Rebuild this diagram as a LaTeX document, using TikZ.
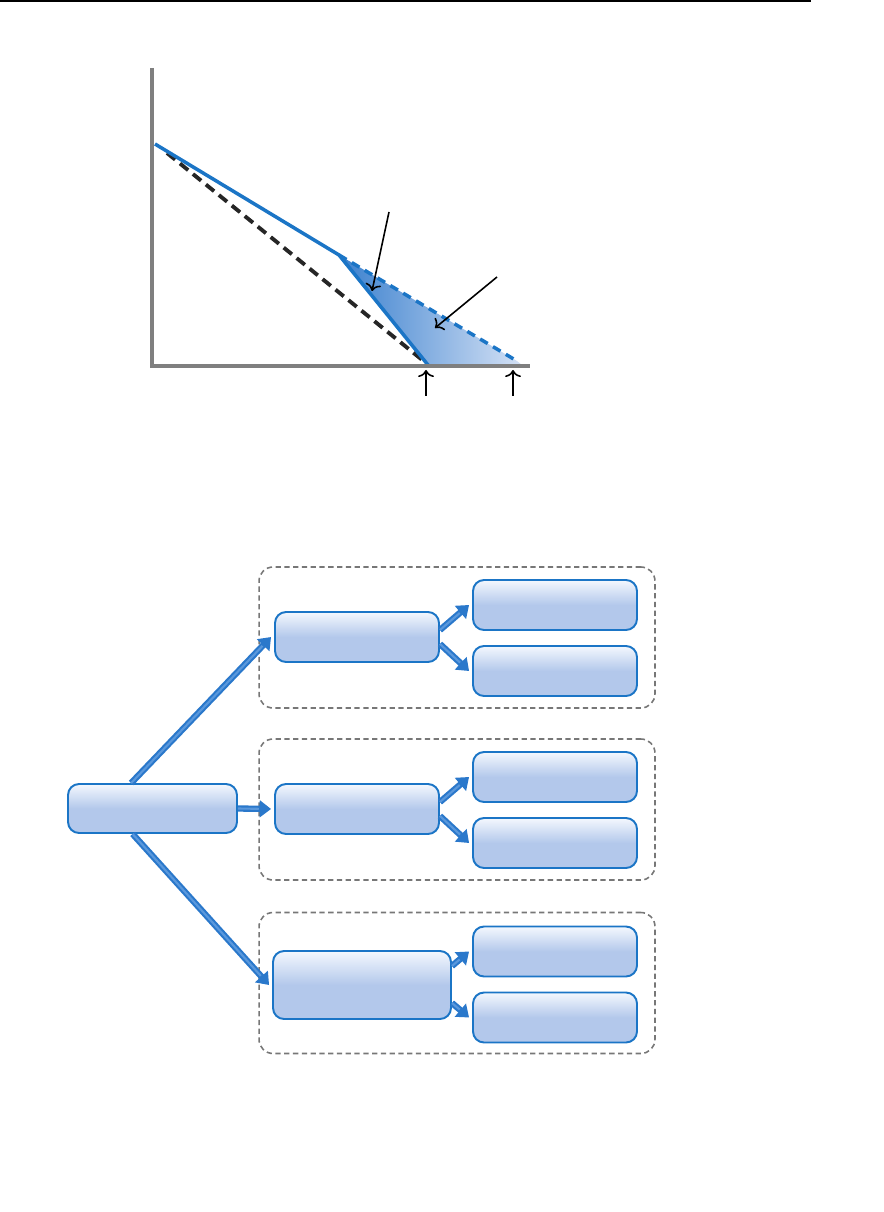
\documentclass[tikz,border=0pt]{standalone}
\usepackage{tikz}
\usetikzlibrary{arrows.meta}

\definecolor{lineblue}{HTML}{1B75C6}
\definecolor{boxtop}{HTML}{F4F8FE}
\definecolor{boxbot}{HTML}{B3C8EB}
\definecolor{axisgray}{HTML}{7F7F7F}
\definecolor{groupgray}{HTML}{777777}
\definecolor{flowblue}{HTML}{2A78CB}
\definecolor{flowlight}{HTML}{5A98DC}
\definecolor{shadedark}{HTML}{3A80CE}
\definecolor{shadelight}{HTML}{D4E1F5}

\tikzset{
    blockbox/.style={draw=lineblue, line width=1.1pt, rounded corners=0.22cm,
        top color=boxtop, bottom color=boxbot, middle color=boxbot,
        minimum width=3.28cm, minimum height=1cm, inner sep=0pt},
    groupbox/.style={draw=groupgray, line width=0.9pt, dash pattern=on 3pt off 2pt,
        rounded corners=0.28cm, minimum width=7.92cm, minimum height=2.82cm, inner sep=0pt},
    flow/.style={draw=flowblue, line width=3.6pt, -{Triangle[width=9.5pt,length=6.5pt]},
        postaction={draw=flowlight, line width=1.2pt, shorten >=7pt, -}},
    pointer/.style={line width=0.9pt, -{To[length=4pt,width=9pt]}}
}

\begin{document}
\begin{tikzpicture}[x=0.02cm, y=-0.02cm]
        \useasboundingbox (0,0) rectangle (883,1212);
        \draw[line width=0.9pt] (0,1) -- (811,1);

        % chart
        \coordinate (ytop) at (152,68);
        \coordinate (origin) at (152,366);
        \coordinate (xend) at (530,366);
        \coordinate (start) at (155,144);
        \coordinate (knee) at (339,255);
        \coordinate (cut) at (428,365);
        \coordinate (cutfar) at (517,361);

        \shade[left color=shadedark, right color=shadelight]
            (knee) -- (cut) -- (522,365) -- (cutfar) -- cycle;
        \draw[line width=2.2pt, dash pattern=on 6pt off 3.5pt, black!85] (167,153) -- (426,363);
        \draw[line width=2pt, lineblue, dash pattern=on 5pt off 3.5pt] (knee) -- (cutfar);
        \draw[line width=2pt, lineblue, line join=round] (start) -- (knee) -- (cut);
        \draw[line width=2.4pt, axisgray, line join=miter] (ytop) -- (origin) -- (xend);

        \draw[pointer] (389,212) -- (372,291);
        \draw[pointer] (497,277) -- (435,328);
        \foreach \x in {426,513} {
            \draw[pointer] (\x,396) -- (\x,370);
        }

        % groups
        \foreach \g/\y in {1/637.5,2/809.5,3/983} {
            \node[groupbox] (group\g) at (457,\y) {};
        }

        % boxes
        \node[blockbox, minimum width=3.38cm, minimum height=0.98cm] (source) at (152.5,808.5) {};
        \node[blockbox] (mid1) at (357,637) {};
        \node[blockbox] (mid2) at (357,809) {};
        \node[blockbox, minimum width=3.56cm, minimum height=1.36cm] (mid3) at (362,985) {};
        \foreach \n/\y in {1/605,2/671,3/777,4/843,5/951.5,6/1017.5} {
            \node[blockbox] (out\n) at (555,\y) {};
        }

        % connectors
        \draw[flow] (source.130) -- ([xshift=-0.06cm]mid1.west);
        \draw[flow] (source.east) -- ([xshift=-0.06cm]mid2.west);
        \draw[flow] (source.232) -- ([xshift=-0.06cm]mid3.west);
        \draw[flow] ([yshift=0.14cm]mid1.east) -- ([xshift=-0.06cm]out1.west);
        \draw[flow] ([yshift=-0.14cm]mid1.east) -- ([xshift=-0.06cm]out2.west);
        \draw[flow] ([yshift=0.14cm]mid2.east) -- ([xshift=-0.06cm]out3.west);
        \draw[flow] ([yshift=-0.14cm]mid2.east) -- ([xshift=-0.06cm]out4.west);
        \draw[flow] ([yshift=0.38cm]mid3.east) -- ([xshift=-0.06cm]out5.west);
        \draw[flow] ([yshift=-0.36cm]mid3.east) -- ([xshift=-0.06cm]out6.west);
    \end{tikzpicture}
\end{document}
